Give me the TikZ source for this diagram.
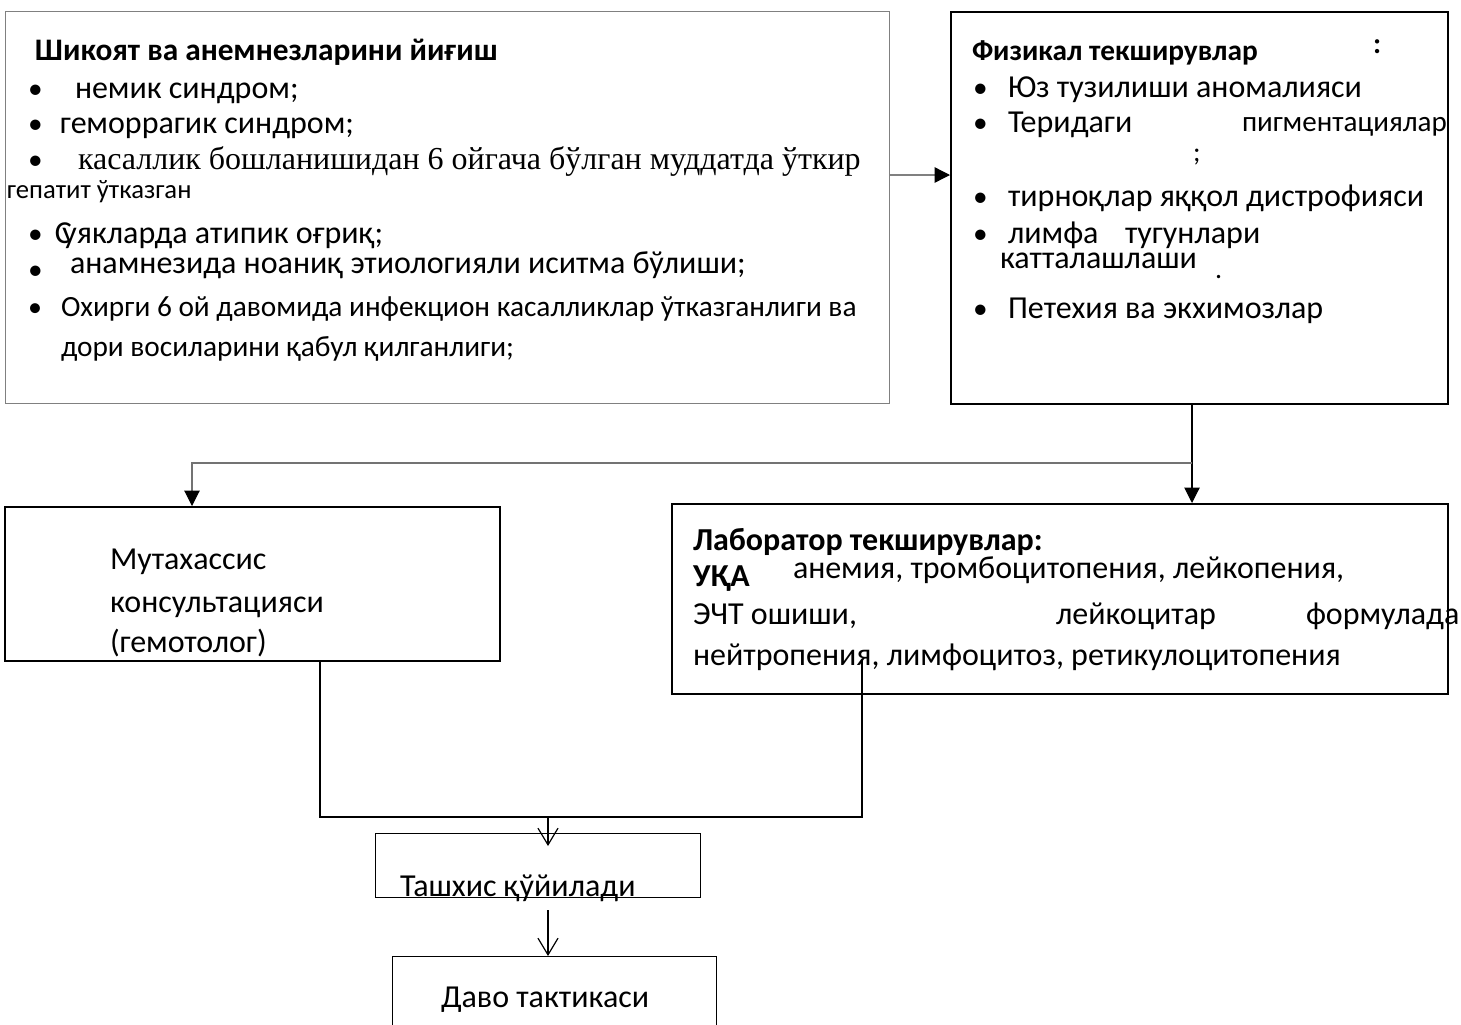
\documentclass[tikz,border=0pt]{standalone}
\usepackage{fontspec}
\setmainfont{Carlito}
\newfontfamily\tnr{Liberation Serif}
\usetikzlibrary{arrows.meta}
\newcommand{\fz}[1]{\fontsize{#1}{#1}\selectfont}
\begin{document}
\begin{tikzpicture}[x=0.75pt,y=-0.75pt,
  txt/.style={anchor=base west,inner sep=0pt,outer sep=0pt},
  boxg/.style={draw=gray,line width=1pt,anchor=north west,inner sep=0pt},
  boxk/.style={draw=black,line width=1.4pt,anchor=north west,inner sep=0pt},
  farr/.style={-{Triangle[length=11.5pt,width=11.5pt,color=black]},line width=0.8pt},
  oarr/.style={-{Straight Barb[length=12.5pt,width=15pt,line width=0.9pt]},line width=0.9pt},
  ln/.style={line width=0.9pt}]
\clip (0,0) rectangle (1461,1025);
\fill[white] (0,0) rectangle (1461,1025);
% boxes
\node[boxg,minimum width={884*0.75pt},minimum height={392*0.75pt}] (b1) at (5,11) {};
\node[boxk,minimum width={497*0.75pt},minimum height={392*0.75pt}] (b2) at (950,11) {};
\node[boxk,minimum width={495*0.75pt},minimum height={154*0.75pt}] (b3) at (4,506) {};
\node[boxk,minimum width={776*0.75pt},minimum height={190*0.75pt}] (b4) at (671,503) {};
\node[boxk,line width=1.1pt,minimum width={325*0.75pt},minimum height={64*0.75pt}] (b5) at (375,833) {};
\node[boxk,line width=1.1pt,minimum width={324*0.75pt},minimum height={120*0.75pt}] (b6) at (392,956) {};
% box 1 text
\node[txt,font=\bfseries\fz{23.5}] (h1) at (35,60) {Шикоят ва анемнезларини йиғиш};
\node[txt,font=\fz{22}] (p1) at (28,98) {•};
\node[txt,font=\fz{24}] (t1) at (75,98) {немик синдром;};
\node[txt,font=\fz{22}] (p2) at (28,133) {•};
\node[txt,font=\fz{24}] (t2) at (60,133) {геморрагик синдром;};
\node[txt,font=\fz{22}] (p3) at (28,169) {•};
\node[txt,font=\tnr\fz{24}] (t3) at (78,169) {касаллик бошланишидан 6 ойгача бўлган муддатда ўткир};
\node[txt,font=\fz{20}] (t3b) at (7,198) {гепатит ўтказган};
\node[txt,font=\fz{22}] (p4) at (28,243) {•};
\node[txt,font=\fz{24}] (t4) at (55,243) {С\kern-0.3emуякларда атипик оғриқ;};
\node[txt,font=\fz{22}] (p5) at (28,279) {•};
\node[txt,font=\fz{24}] (t5) at (70,273) {анамнезида ноаниқ этиологияли иситма бўлиши;};
\node[txt,font=\fz{21}] (p6) at (28,316) {•};
\node[txt,font=\fz{22}] (t6) at (61,316) {Охирги 6 ой давомида инфекцион касалликлар ўтказганлиги ва};
\node[txt,font=\fz{22}] (t6b) at (61,356) {дори восиларини қабул қилганлиги;};
% box 2 text
\node[txt,font=\bfseries\fz{22}] (h2) at (972,60) {Физикал текширувлар};
\node[txt,font=\bfseries\fz{22}] (h2c) at (1373,53) {:};
\node[txt,font=\fz{22}] (q1) at (973,97) {•};
\node[txt,font=\fz{24}] (s1) at (1008,97) {Юз тузилиши аномалияси};
\node[txt,font=\fz{22}] (q2) at (973,132) {•};
\node[txt,font=\fz{24}] (s2) at (1008,132) {Теридаги};
\node[txt,font=\fz{21.8}] (s2b) at (1242,131) {пигментациялар};
\node[txt,font=\fz{21}] (s2c) at (1193,161) {;};
\node[txt,font=\fz{22}] (q3) at (973,206) {•};
\node[txt,font=\fz{24}] (s3) at (1008,206) {тирноқлар яққол дистрофияси};
\node[txt,font=\fz{22}] (q4) at (973,243) {•};
\node[txt,font=\fz{24}] (s4) at (1008,243) {лимфа};
\node[txt,font=\fz{24}] (s4b) at (1125,243) {тугунлари};
\node[txt,font=\fz{24}] (s4c) at (1000,268) {катталашлаши};
\node[txt,font=\fz{21}] (s4d) at (1215,278) {.};
\node[txt,font=\fz{22}] (q5) at (973,318) {•};
\node[txt,font=\fz{24}] (s5) at (1008,318) {Петехия ва экхимозлар};
% box 3 text
\node[txt,font=\fz{24}] (m1t) at (110,569) {Мутахассис};
\node[txt,font=\fz{24}] (m2t) at (110,612) {консультацияси};
\node[txt,font=\fz{24}] (m3t) at (110,652) {(гемотолог)};
% box 4 text
\node[txt,font=\bfseries\fz{24}] (l0) at (693,550) {Лаборатор текширувлар:};
\node[txt,font=\bfseries\fz{24}] (l1a) at (693,586) {УҚА};
\node[txt,font=\fz{24}] (l1b) at (793,578) {анемия, тромбоцитопения, лейкопения,};
\node[txt,font=\fz{24}] (l2a) at (693,624) {ЭЧТ ошиши,};
\node[txt,font=\fz{24}] (l2b) at (1056,624) {лейкоцитар};
\node[txt,font=\fz{24}] (l2c) at (1306,624) {формулада};
\node[txt,font=\fz{24}] (l3) at (693,665) {нейтропения, лимфоцитоз, ретикулоцитопения};
% bottom texts
\node[txt,font=\fz{24}] (d1t) at (400,896) {Ташхис қўйилади};
\node[txt,font=\fz{24}] (d2t) at (441,1007) {Даво тактикаси};
% coordinates
\coordinate (j1) at (920,175);
\coordinate (sp) at (1192,463);
\coordinate (a3) at (192,463);
\coordinate (c1) at (320,817);
\coordinate (c2) at (862,817);
\coordinate (c3) at (862,660);
\coordinate (e1) at (548,817);
\coordinate (e1t) at (548,846);
\coordinate (e2) at (548,910);
% connectors
\draw[farr,draw=gray,line width=1pt] (b1.east|-j1) -- (b2.west|-j1);
\draw[ln] (b2.south-|sp) -- (sp);
\draw[farr] (sp) -- (b4.north-|sp);
\draw[farr,draw=gray!90!black] (sp) -- (a3) -- (b3.north-|a3);
\draw[ln,line width=1.2pt] (b3.south-|c1) -- (c1) -- (c2) -- (c3);
\draw[oarr] (e1) -- (e1t);
\draw[oarr] (e2) -- (b6.north-|e2);
\end{tikzpicture}
\end{document}
